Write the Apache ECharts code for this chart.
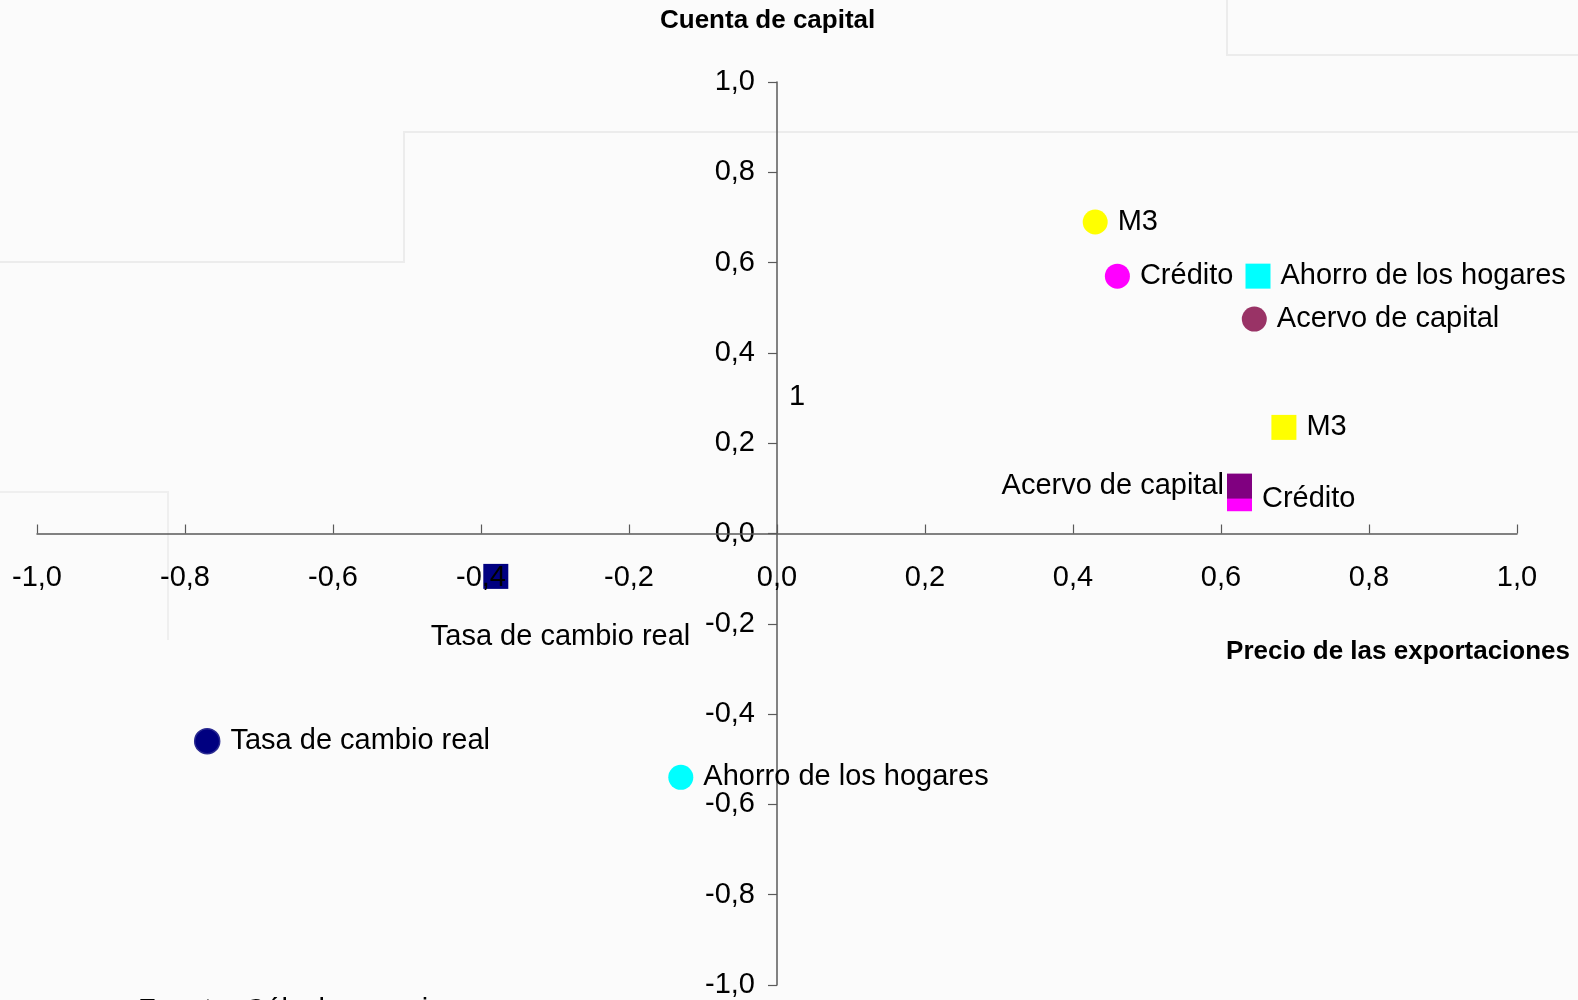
<!DOCTYPE html>
<html>
<head>
<meta charset="utf-8">
<script src="https://cdn.jsdelivr.net/npm/echarts@6/dist/echarts.min.js"></script>
<style>
  html, body { margin: 0; padding: 0; background: #fbfbfb; }
  #chart { width: 1578px; height: 1000px; }
</style>
</head>
<body>
<div id="chart"></div>
<script>
// variables (same order for both series)
const names = ['M3', 'Crédito', 'Ahorro de los hogares', 'Acervo de capital', 'Tasa de cambio real'];

// circles
const circleX = [0.43, 0.46, -0.13, 0.645, -0.77];
const circleY = [0.69, 0.57, -0.54, 0.475, -0.46];
const circleColors = ['#FFFF00', '#FF00FF', '#00FFFF', '#993366', '#000080'];

// squares
const squareX = [0.685, 0.625, 0.65, 0.625, -0.38];
const squareY = [0.235, 0.077, 0.57, 0.105, -0.095];
const squareColors = ['#FFFF00', '#FF00FF', '#00FFFF', '#800080', '#000080'];

const FONT = 'Liberation Sans, Arial, sans-serif';
const fmt = (v) => v.toFixed(1).replace('.', ',');

// grid box, axes cross in the middle
const GRID = { left: 37, right: 61, top: 82, bottom: 15 };
const W = 1578, H = 1000;
const halfW = (W - GRID.left - GRID.right) / 2;
const halfH = (H - GRID.top - GRID.bottom) / 2;

const baseLabel = {
  show: true,
  position: 'right',
  distance: 10,
  fontSize: 29,
  fontFamily: FONT,
  color: '#000',
  formatter: '{b}',
};

const circleData = names.map((n, i) => ({
  name: n,
  value: [circleX[i], circleY[i]],
  itemStyle: {
    color: circleColors[i],
    opacity: 1,
    borderColor: i === 4 ? '#2a2a90' : circleColors[i],
    borderWidth: i === 4 ? 1.5 : 0,
  },
}));

const squareData = names.map((n, i) => {
  const item = {
    name: n,
    value: [squareX[i], squareY[i]],
    itemStyle: { color: squareColors[i], opacity: 1 },
  };
  // label de Acervo a la izquierda, Tasa debajo a la derecha
  if (n === 'Acervo de capital') {
    item.label = { position: 'left', distance: 3 };
  }
  if (n === 'Tasa de cambio real') {
    item.label = { position: [207, 73], align: 'right', verticalAlign: 'middle' };
  }
  return item;
});

const chart = echarts.init(document.getElementById('chart'));

chart.setOption({
  backgroundColor: '#fbfbfb',
  animation: false,
  grid: {
    left: GRID.left, right: GRID.right, top: GRID.top, bottom: GRID.bottom,
    containLabel: false,
    outerBoundsMode: 'none',
  },
  xAxis: {
    type: 'value',
    position: 'bottom',
    offset: -halfH,
    z: 10,
    min: -1,
    max: 1,
    interval: 0.2,
    axisLine: { onZero: false, lineStyle: { color: '#5a5a5a', width: 1.5 } },
    axisTick: { show: true, inside: true, length: 9, lineStyle: { color: '#5a5a5a', width: 1.2 } },
    axisLabel: {
      margin: 30,
      fontSize: 29,
      fontFamily: FONT,
      color: '#000',
      formatter: (v) => fmt(v),
    },
    splitLine: { show: false },
  },
  yAxis: {
    type: 'value',
    position: 'left',
    offset: -halfW,
    min: -1,
    max: 1,
    interval: 0.2,
    axisLine: { show: true, onZero: false, lineStyle: { color: '#5a5a5a', width: 1.5 } },
    axisTick: { show: true, length: 9, lineStyle: { color: '#5a5a5a', width: 1.2 } },
    axisLabel: {
      margin: 22,
      fontSize: 29,
      fontFamily: FONT,
      color: '#000',
      formatter: (v) => fmt(v),
    },
    splitLine: { show: false },
  },
  graphic: [
    // trazos tenues del fondo escaneado
    { type: 'polyline', silent: true, z: -10, shape: { points: [[0, 262], [404, 262], [404, 132], [1578, 132]] }, style: { stroke: '#ececec', lineWidth: 2, fill: null } },
    { type: 'polyline', silent: true, z: -10, shape: { points: [[1227, 0], [1227, 55], [1578, 55]] }, style: { stroke: '#ececec', lineWidth: 2, fill: null } },
    { type: 'polyline', silent: true, z: -10, shape: { points: [[0, 492], [168, 492], [168, 640]] }, style: { stroke: '#efefef', lineWidth: 2, fill: null } },
    { type: 'text', left: 660, top: 8, style: { text: 'Cuenta de capital', fontSize: 26, fontWeight: 'bold', fontFamily: FONT, fill: '#000' } },
    { type: 'text', right: 8, top: 639, style: { text: 'Precio de las exportaciones', fontSize: 26, fontWeight: 'bold', fontFamily: FONT, fill: '#000' } },
    { type: 'text', left: 789, top: 382, style: { text: '1', fontSize: 29, fontFamily: FONT, fill: '#000' } },
    { type: 'text', left: 138, top: 996, style: { text: 'Fuente: Cálculos propios', fontSize: 29, fontFamily: FONT, fill: '#000' } },
  ],
  series: [
    {
      name: 'Circulos',
      type: 'scatter',
      symbol: 'circle',
      symbolSize: 25,
      data: circleData,
      label: baseLabel,
      z: 3,
    },
    {
      name: 'Cuadrados',
      type: 'scatter',
      symbol: 'rect',
      symbolSize: 25,
      data: squareData,
      label: baseLabel,
      z: 2,
    },
  ],
});
</script>
</body>
</html>
